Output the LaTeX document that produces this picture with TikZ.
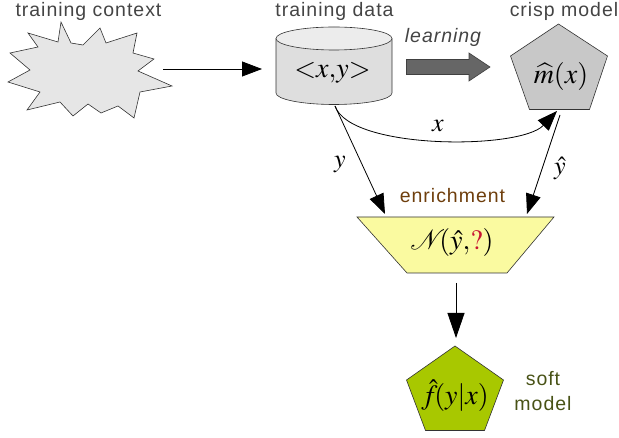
\documentclass[tikz,border=0pt]{standalone}
\usepackage{mathptmx}
\usepackage{fontspec}
\setmainfont{Liberation Serif}
\newfontfamily\labfont[LetterSpace=5]{Liberation Sans}
\usetikzlibrary{arrows.meta}
\definecolor{labgray}{RGB}{68,68,68}
\definecolor{enrbrown}{RGB}{110,62,12}
\definecolor{softolive}{RGB}{72,82,22}
\definecolor{burstfill}{RGB}{230,230,230}
\definecolor{cylfill}{RGB}{222,222,222}
\definecolor{cyltop}{RGB}{236,236,236}
\definecolor{crispfill}{RGB}{200,200,200}
\definecolor{enrfill}{RGB}{250,250,160}
\definecolor{softfill}{RGB}{168,200,0}
\definecolor{qred}{RGB}{200,20,50}
\tikzset{
  lab/.style={font=\labfont\fontsize{19.5}{21}\selectfont, text=labgray, anchor=base, inner sep=0},
  mathlbl/.style={font=\fontsize{28}{30}\selectfont, anchor=base, inner sep=0},
  conn/.style={line width=0.8pt, -{Triangle[length=20pt,width=15pt]}},
  shapeline/.style={line width=0.6pt, draw=black!80},
}
\begin{document}
\begin{tikzpicture}[x=1pt,y=-1pt]
\useasboundingbox (0,0) rectangle (619,438);

% starburst
\draw[shapeline, fill=burstfill] (61,22) -- (71,43) -- (83,45) -- (100,28) -- (106,43) -- (137,33) -- (133,53) -- (154,59) -- (138,71) -- (172,86) -- (140,92) -- (134,118) -- (118,106) -- (101,113) -- (88,104) -- (73,116) -- (60,102) -- (27,110) -- (40,92) -- (8,82) -- (30,70) -- (10,53) -- (38,47) -- (28,33) -- (58,42) -- cycle;
\coordinate (burst) at (163,69);

% cylinder
\fill[cylfill] (276,38.5) -- (276,93) arc[start angle=180,end angle=0,x radius=58,y radius=11.5] -- (392,38.5) arc[start angle=0,end angle=180,x radius=58,y radius=11.5] -- cycle;
\draw[shapeline] (276,38.5) -- (276,93) arc[start angle=180,end angle=0,x radius=58,y radius=11.5] -- (392,38.5);
\draw[shapeline, fill=cyltop] (334,38.5) ellipse[x radius=58,y radius=11.5];
\coordinate (cylB) at (335,106);
\node[mathlbl] (data) at (332.5,77.3) {$<\!\!x,\!y\!\!>$};

% learning block arrow
\draw[line width=0.6pt, draw=black!75, fill=black!60] (406.5,59.5) -- (469,59.5) -- (469,53) -- (490,67) -- (469,81) -- (469,74.5) -- (406.5,74.5) -- cycle;

% crisp model pentagon
\draw[shapeline, fill=crispfill] (558.5,24) -- (607.5,56) -- (589.5,109.5) -- (529.5,109.5) -- (510.5,56) -- cycle;
\coordinate (crispB) at (557,111);
\coordinate (crispS) at (560,115);
\node[mathlbl] (crisp) at (561,83.3) {$\widehat{m}(x)$};

% enrichment trapezoid
\draw[shapeline, fill=enrfill] (357,217) -- (554,217) -- (507,273) -- (407,273) -- cycle;
\coordinate (enrL) at (385,214);
\coordinate (enrR) at (527,214);
\coordinate (enrB) at (456,283);
\node[mathlbl] (enr) at (452,250) {$\mathcal{N}\!\!(\hat{y},\!{\color{qred}?})$};

% soft model pentagon
\draw[shapeline, fill=softfill] (455,346) -- (503.5,380) -- (484.5,430.5) -- (425.5,430.5) -- (406.5,380) -- cycle;
\coordinate (softT) at (456,338);
\node[mathlbl] (soft) at (455,405) {$\hat{f}\!(y|x)$};

% labels
\node[lab] (lctx) at (88.5,17) {training context};
\node[lab] (ldata) at (334.5,17) {training data};
\node[lab] (lcrisp) at (564,17) {crisp model};
\node[lab, font=\labfont\itshape\fontsize{19.5}{21}\selectfont] (llearn) at (443,42.5) {learning};
\node[lab, text=enrbrown] (lenr) at (452.5,202.5) {enrichment};
\node[lab, text=softolive] (lsoft) at (543,386) {soft};
\node[lab, text=softolive] (lmodel) at (543,410) {model};

% connectors
\draw[conn] (burst) -- (262,69) coordinate (cylIn);
\draw[conn] (cylB) .. controls (350,150) and (520,150) .. (crispB);
\draw[conn] (cylB) -- (enrL);
\draw[conn] (crispS) -- (enrR);
\draw[line width=0.8pt, -{Triangle[length=25pt,width=17pt]}] (enrB) -- (softT);

% connector labels
\node[mathlbl, font=\fontsize{26}{28}\selectfont] (lx) at (438,131.5) {$x$};
\node[mathlbl, font=\fontsize{26}{28}\selectfont] (ly) at (340,168) {$y$};
\node[mathlbl, font=\fontsize{26}{28}\selectfont] (lyh) at (560,175) {$\hat{y}$};
\end{tikzpicture}
\end{document}
